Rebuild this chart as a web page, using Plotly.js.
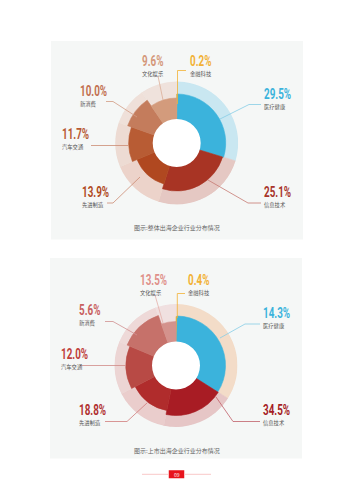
<!DOCTYPE html>
<html><head><meta charset="utf-8">
<script src="https://cdn.plot.ly/plotly-3.0.1.min.js"></script>
<style>html,body{margin:0;padding:0;background:#fff;}#chart{width:353px;height:500px;}</style>
</head><body><div id="chart"></div>
<script>
// categories in clockwise order starting at 12 o'clock
const categories = ['金融科技','医疗健康','信息技术','先进制造','汽车交通','新消费','文化娱乐'];
// chart 1: 整体出海企业行业分布 (printed values, arcs follow them)
const overallShare = [0.2, 29.5, 25.1, 13.9, 11.7, 10.0, 9.6];
// chart 2: 上市出海企业行业分布 (printed values)
const listedShare = [0.4, 14.3, 34.5, 18.8, 12.0, 5.6, 13.5];
// chart 2: arc sizes as they are drawn in the reference
const listedArcShare = [0.4, 33.6, 19.2, 14.2, 13.9, 13.3, 5.4];
const captions = ['图示:整体出海企业行业分布情况', '图示:上市出海企业行业分布情况'];
const pageNumber = '09';

// ---- styles ----
const OUTER = 61.5, HOLE = 24;
const innerRadius1 = [49, 49, 48, 43, 48, 52, 45];
const innerRadius2 = [49, 49.5, 50, 46, 50, 53, 44];
const innerColor1 = ['#f2b134','#3bb3dc','#a83424','#b04820','#b85c34','#c47c5c','#d39b7c'];
const outerColor1 = ['#efe2dc','#c9e7f1','#e5c8c3','#ecd3ca','#eddbd3','#efe0d9','#efe2dc'];
const labelColor1 = ['#f2b134','#3bb3dc','#a8342a','#b04a22','#b85a33','#c27050','#d4977a'];
const innerColor2 = ['#f2b134','#3bb3dc','#a81c24','#b02c2c','#b84a45','#c6716a','#d4928c'];
const outerColor2 = ['#f0e0e0','#f3dcc8','#e6c6c6','#eacdcc','#ecd5d4','#eed9d8','#f0e0e0'];
const labelColor2 = ['#f2b134','#3bb3dc','#a51c24','#b03030','#c0403a','#c86060','#e0908a'];

function arcs(shares){
  const tot = shares.reduce((a,b)=>a+b,0);
  let cum = 0; const theta=[], width=[];
  shares.forEach(v=>{ const w=v/tot*360; theta.push(cum+w/2); width.push(w); cum+=w; });
  return {theta, width};
}

function ringTraces(shares, inR, inC, outC, polar){
  const a = arcs(shares);
  const base = {type:'barpolar', subplot:polar, theta:a.theta, width:a.width, hoverinfo:'skip', showlegend:false};
  return [
    Object.assign({}, base, {r:shares.map(()=>OUTER), marker:{color:outC, line:{color:outC, width:0.6}}}),
    Object.assign({}, base, {r:inR, marker:{color:inC, line:{color:inC, width:0.6}}}),
    Object.assign({}, base, {theta:[180], width:[360], r:[HOLE], marker:{color:'#ffffff', line:{width:0}}})
  ];
}

const traces = [
  {type:'scatter', x:[0], y:[0], mode:'markers', marker:{opacity:0}, hoverinfo:'skip', showlegend:false},
  ...ringTraces(overallShare, innerRadius1, innerColor1, outerColor1, 'polar'),
  ...ringTraces(listedArcShare, innerRadius2, innerColor2, outerColor2, 'polar2')
];

function polarCfg(cx, cy){
  return {
    domain:{x:[(cx-OUTER)/353,(cx+OUTER)/353], y:[(500-cy-OUTER)/500,(500-cy+OUTER)/500]},
    bgcolor:'rgba(0,0,0,0)', barmode:'overlay', bargap:0, hole:0,
    radialaxis:{range:[0,OUTER], visible:false, showgrid:false, showline:false, showticklabels:false, ticks:''},
    angularaxis:{rotation:90, direction:'clockwise', visible:false, showgrid:false, showline:false, showticklabels:false, ticks:''}
  };
}

// label positions (left x, vertical centre of the two-line label) per category
const labelPos1 = [[189,65],[263,98],[263,196],[81,196],[61,138.5],[79,95],[141,65]];
const labelPos2 = [[187,284],[262,317.5],[262,414.5],[78,414.5],[60,358.5],[78,314.5],[139,284]];
const leaders1 = ['M177.5,104 L177.5,70.5 L186,70.5','M220,119 L249,104.5 L261,104.5','M208,180 L248,203 L261,203',
  'M140,177 L113,203 L107,203','M91,145.5 L128,145.5','M106,101.5 L113,101.5 L137,117','M163,100 L158,76'];
const leaders2 = ['M177.3,318 L177.3,293.5 L185,293.5','M220,338 L245,324 L260,324','M216,397 L233,421.5 L260,421.5',
  'M147,403 L127,421.5 L105,421.5','M80,365.5 L126,365.5','M105,321.5 L113,321.5 L137,335','M155,295 L163,323'];
const leaderColor1 = ['#f2b134','#86cde6','#c77a72','#cc8c74','#cc8c74','#d29c84','#dcae98'];
const leaderColor2 = ['#f2b134','#86cde6','#c0606a','#d07c7c','#d08a88','#d09090','#e4b0aa'];

const PCT_FONT = "Roboto, Liberation Sans, sans-serif";
const CJK = "'Noto Sans CJK SC','Noto Sans',sans-serif";
const annotations = [];
function addLabels(values, pos, colors){
  categories.forEach((c,i)=>{
    const pct = '<span style="font-family:' + PCT_FONT + ';font-size:14.5px;font-weight:700;fill:' + colors[i] + '">' + values[i].toFixed(1) + '%</span>';
    const name = '<span style="font-size:5.3px">' + c + '</span>';
    annotations.push({xref:'x', yref:'y', x:pos[i][0], y:pos[i][1], xanchor:'left', yanchor:'middle', align:'left', showarrow:false,
      text: pct + '<br>' + name, font:{family:CJK, size:7.6, color:'#555555'}, borderpad:0});
  });
}
addLabels(overallShare, labelPos1, labelColor1);
addLabels(listedShare, labelPos2, labelColor2);
annotations.push({xref:'x', yref:'y', x:177, y:227, showarrow:false, text:captions[0], font:{family:CJK, size:6, color:'#666666'}});
annotations.push({xref:'x', yref:'y', x:177, y:450.5, showarrow:false, text:captions[1], font:{family:CJK, size:6, color:'#666666'}});
annotations.push({xref:'x', yref:'y', x:176.5, y:474.3, showarrow:false, text:pageNumber, font:{family:CJK, size:5, color:'#ffffff'}});

const shapes = [
  {type:'rect', xref:'x', yref:'y', x0:51, x1:303, y0:41, y1:239.5, fillcolor:'#f5f7f6', line:{width:0}, layer:'below'},
  {type:'rect', xref:'x', yref:'y', x0:50, x1:302, y0:258, y1:458.5, fillcolor:'#f5f7f6', line:{width:0}, layer:'below'},
  {type:'path', xref:'x', yref:'y', path:'M142,474.3 L168,474.3', line:{color:'#f9c8c8', width:1}},
  {type:'path', xref:'x', yref:'y', path:'M185,474.3 L211,474.3', line:{color:'#f9c8c8', width:1}},
  {type:'rect', xref:'x', yref:'y', x0:169.5, x1:183.5, y0:471, y1:477.6, fillcolor:'#e8141c', line:{color:'#e8141c', width:1.5}, layer:'below'}
];
leaders1.forEach((p,i)=>shapes.push({type:'path', xref:'x', yref:'y', path:p, line:{color:leaderColor1[i], width:0.8}}));
leaders2.forEach((p,i)=>shapes.push({type:'path', xref:'x', yref:'y', path:p, line:{color:leaderColor2[i], width:0.8}}));

const layout = {
  width:353, height:500, margin:{l:0,r:0,t:0,b:0}, paper_bgcolor:'#ffffff', plot_bgcolor:'rgba(0,0,0,0)', showlegend:false,
  xaxis:{range:[0,353], visible:false, fixedrange:true, domain:[0,1]},
  yaxis:{range:[500,0], visible:false, fixedrange:true, domain:[0,1]},
  polar:polarCfg(176.7,143), polar2:polarCfg(176,365.5),
  annotations, shapes
};
Plotly.newPlot('chart', traces, layout, {staticPlot:true, displayModeBar:false}).then(gd=>{
  // condense the percentage figures (the reference uses a condensed display face)
  gd.querySelectorAll('.annotation-text tspan').forEach(t=>{
    if (t.children.length === 0 && /^\d+\.\d%$/.test(t.textContent)) {
      const w = t.getComputedTextLength();
      t.setAttribute('textLength', (w*0.68).toFixed(2));
      t.setAttribute('lengthAdjust', 'spacingAndGlyphs');
    }
  });
});
</script></body></html>
